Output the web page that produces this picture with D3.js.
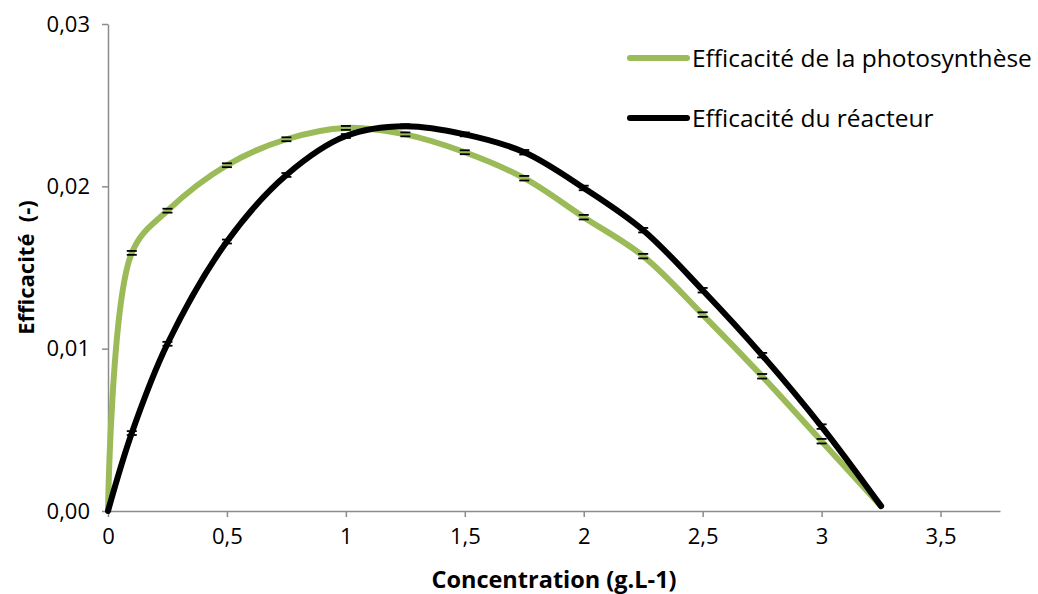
<!DOCTYPE html>
<html>
<head>
<meta charset="utf-8">
<script src="https://cdn.jsdelivr.net/npm/d3@7"></script>
<style>
  body { margin: 0; background: #fff; }
  svg { display: block; }
  text { font-family: "Open Sans", Lato, sans-serif; }
</style>
</head>
<body>
<svg id="chart" width="1038" height="594"></svg>
<script>
// ---- data ----
const concentration = [0, 0.1, 0.25, 0.5, 0.75, 1.0, 1.25, 1.5, 1.75, 2.0, 2.25, 2.5, 2.75, 3.0, 3.25];
const photosynthese = [0, 0.0159, 0.0185, 0.0213, 0.0229, 0.0236, 0.0232, 0.0221, 0.0205, 0.0181, 0.0157, 0.0121, 0.0083, 0.0043, 0.0003];
const reacteur      = [0, 0.0048, 0.0103, 0.0166, 0.0207, 0.0231, 0.0237, 0.0232, 0.0221, 0.0199, 0.0173, 0.0136, 0.0096, 0.0052, 0.0003];
const errPhoto      = [0, 0.00012, 0.00012, 0.00012, 0.00012, 0.00012, 0.00012, 0.00012, 0.00014, 0.00014, 0.00014, 0.00014, 0.00014, 0.00014, 0];
const errReact      = [0, 0.00012, 0.00012, 0.00012, 0.00012, 0.00012, 0.00012, 0.00012, 0.00014, 0.00014, 0.00014, 0.00014, 0.00014, 0.00014, 0];
const xTicks = [0, 0.5, 1, 1.5, 2, 2.5, 3, 3.5];
const xTickLabels = ["0", "0,5", "1", "1,5", "2", "2,5", "3", "3,5"];
const yTicks = [0, 0.01, 0.02, 0.03];
const yTickLabels = ["0,00", "0,01", "0,02", "0,03"];
const seriesNames = ["Efficacité de la photosynthèse", "Efficacité du réacteur"];
const xTitle = "Concentration (g.L-1)";
const yTitle = "Efficacité  (-)";

// ---- layout ----
const svg = d3.select("#chart");
const mLeft = 108, mRight = 1000, mTop = 24, mBottom = 511;
const x = d3.scaleLinear().domain([0, 3.75]).range([mLeft, mRight]);
const y = d3.scaleLinear().domain([0, 0.03]).range([mBottom, mTop]);
const axisColor = "#8c8c8c";
const green = "#9bbb59";

// axes
const xAxis = svg.append("g").attr("transform", `translate(0,${mBottom})`)
  .call(d3.axisBottom(x).tickValues(xTicks).tickFormat((d, i) => xTickLabels[i]).tickSize(6).tickSizeOuter(0).tickPadding(11));
const yAxis = svg.append("g").attr("transform", `translate(${mLeft},0)`)
  .call(d3.axisLeft(y).tickValues(yTicks).tickFormat((d, i) => yTickLabels[i]).tickSize(6).tickSizeOuter(0).tickPadding(12));
[xAxis, yAxis].forEach(g => {
  g.select(".domain").attr("stroke", axisColor).attr("stroke-width", 1.5);
  g.selectAll(".tick line").attr("stroke", axisColor).attr("stroke-width", 1.5);
  g.selectAll(".tick text").attr("fill", "#000").style("font-size", "22px").style("font-family", "'Open Sans', sans-serif");
});

const series = [
  { vals: photosynthese, err: errPhoto, color: green },
  { vals: reacteur, err: errReact, color: "#000" }
];

// error bar stems (behind lines)
series.forEach(s => {
  const g = svg.append("g");
  concentration.forEach((c, i) => {
    if (s.err[i] <= 0) return;
    g.append("line").attr("x1", x(c)).attr("x2", x(c))
      .attr("y1", y(s.vals[i] + s.err[i])).attr("y2", y(s.vals[i] - s.err[i]))
      .attr("stroke", "#000").attr("stroke-width", 1);
  });
});

// lines
const line = d3.line().curve(d3.curveCatmullRom.alpha(0.5));
series.forEach(s => {
  svg.append("path")
    .attr("d", line(concentration.map((c, i) => [x(c), y(s.vals[i])])))
    .attr("fill", "none").attr("stroke", s.color).attr("stroke-width", 6)
    .attr("stroke-linecap", "round").attr("stroke-linejoin", "round");
});

// error bar caps
series.forEach(s => {
  const g = svg.append("g");
  concentration.forEach((c, i) => {
    if (s.err[i] <= 0) return;
    [s.vals[i] + s.err[i], s.vals[i] - s.err[i]].forEach(v => g.append("line")
      .attr("x1", x(c) - 5).attr("x2", x(c) + 5).attr("y1", y(v)).attr("y2", y(v))
      .attr("stroke", "#000").attr("stroke-width", 1.8));
  });
});

// legend
const legendY = [58, 118];
seriesNames.forEach((name, i) => {
  svg.append("line").attr("x1", 630).attr("x2", 687).attr("y1", legendY[i]).attr("y2", legendY[i])
    .attr("stroke", series[i].color).attr("stroke-width", 6).attr("stroke-linecap", "round");
  svg.append("text").attr("x", 692).attr("y", legendY[i]).attr("dy", "0.35em")
    .style("font-size", "24.5px").attr("fill", "#000").text(name);
});

// axis titles
svg.append("text").attr("x", 554).attr("y", 588).attr("text-anchor", "middle")
  .style("font-size", "23.5px").style("font-weight", "bold").text(xTitle);
svg.append("text").attr("transform", `translate(34,${(mTop + mBottom) / 2}) rotate(-90)`).attr("text-anchor", "middle")
  .attr("xml:space", "preserve").style("white-space", "pre")
  .style("font-size", "22px").style("font-weight", "bold").text(yTitle);
</script>
</body>
</html>
